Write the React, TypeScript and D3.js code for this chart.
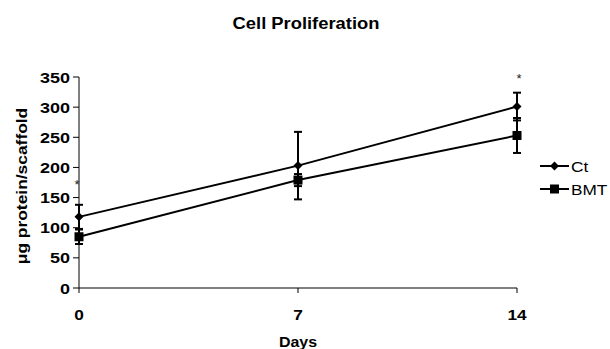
import React from "react";
import * as d3 from "d3";

const days = [0, 7, 14];
const ctValues = [118, 203, 301];
const ctErrors = [20, 56, 23];
const bmtValues = [85, 179, 253];
const bmtErrors = [12, 10, 29];
const yTicks = [0, 50, 100, 150, 200, 250, 300, 350];
const xTicks = [0, 7, 14];
const asterisks = [{ day: 0, value: 178 }, { day: 14, value: 353 }];

const W = 610, H = 349;
const left = 79, right = 517, top = 77, bottom = 288;
const font = "Arial, 'Liberation Sans', sans-serif";

function Txt(props: {
  x: number; y: number; size: number; sx?: number; anchor?: string; bold?: boolean; rotate?: number; fill?: string; children: React.ReactNode;
}) {
  const { x, y, size, sx = 1, anchor = "start", bold = false, rotate = 0, fill = "#000", children } = props;
  return (
    <text
      transform={`translate(${x},${y}) rotate(${rotate}) scale(${sx},1)`}
      textAnchor={anchor}
      fontFamily={font}
      fontWeight={bold ? "bold" : "normal"}
      fontSize={size}
      fill={fill}
    >
      {children}
    </text>
  );
}

export default function App() {
  const x = d3.scaleLinear().domain([0, 14]).range([left, right]);
  const y = d3.scaleLinear().domain([0, 350]).range([bottom, top]);
  const line = d3.line<number>().x((_, i) => x(days[i])).y((d) => y(d));

  const errBars = (vals: number[], errs: number[], key: string) =>
    vals.map((v, i) => {
      const cx = x(days[i]);
      const y1 = y(v + errs[i]);
      const y2 = y(v - errs[i]);
      return (
        <g key={key + i} stroke="#000" strokeWidth={2}>
          <line x1={cx} x2={cx} y1={y1} y2={y2} />
          <line x1={cx - 4} x2={cx + 4} y1={y1} y2={y1} />
          <line x1={cx - 4} x2={cx + 4} y1={y2} y2={y2} />
        </g>
      );
    });

  const diamond = (cx: number, cy: number, k: string) => (
    <path key={k} d={`M${cx},${cy - 4.5}L${cx + 4.5},${cy}L${cx},${cy + 4.5}L${cx - 4.5},${cy}Z`} fill="#000" />
  );
  const square = (cx: number, cy: number, k: string) => (
    <rect key={k} x={cx - 4.5} y={cy - 4.5} width={9} height={9} fill="#000" />
  );

  return (
    <svg width={W} height={H} style={{ position: "absolute", left: 0, top: 0, background: "#fff" }}>
      <Txt x={306} y={29} size={17} sx={1.08} anchor="middle" bold>
        Cell Proliferation
      </Txt>
      {/* axes */}
      <line x1={left} x2={left} y1={top} y2={bottom} stroke="#000" strokeWidth={1} />
      <line x1={left} x2={right} y1={bottom} y2={bottom} stroke="#000" strokeWidth={1} />
      {yTicks.map((t) => (
        <g key={"y" + t}>
          <line x1={left - 6} x2={left} y1={y(t)} y2={y(t)} stroke="#000" />
          <Txt x={70} y={y(t) + 5.5} size={15} sx={1.2} anchor="end" bold>
            {t}
          </Txt>
        </g>
      ))}
      {xTicks.map((t) => (
        <g key={"x" + t}>
          <line x1={x(t)} x2={x(t)} y1={bottom} y2={bottom + 5} stroke="#000" />
          <Txt x={x(t)} y={320} size={15} sx={1.15} anchor="middle" bold>
            {t}
          </Txt>
        </g>
      ))}
      <Txt x={x(7)} y={347} size={14.5} sx={1.1} anchor="middle" bold>
        Days
      </Txt>
      <Txt x={27} y={186} size={14.5} sx={1.2} rotate={-90} anchor="middle" bold>
        μg protein/scaffold
      </Txt>
      {/* series */}
      <path d={line(ctValues) || ""} fill="none" stroke="#000" strokeWidth={2} />
      <path d={line(bmtValues) || ""} fill="none" stroke="#000" strokeWidth={2} />
      {errBars(ctValues, ctErrors, "ce")}
      {errBars(bmtValues, bmtErrors, "be")}
      {ctValues.map((v, i) => diamond(x(days[i]), y(v), "cd" + i))}
      {bmtValues.map((v, i) => square(x(days[i]), y(v), "bs" + i))}
      {asterisks.map((a, i) => (
        <Txt key={"a" + i} x={x(a.day) + (i === 0 ? -2 : 2)} y={y(a.value) + 8} size={13} anchor="middle" fill="#222">
          *
        </Txt>
      ))}
      {/* legend */}
      <g>
        <line x1={540} x2={569} y1={166} y2={166} stroke="#000" strokeWidth={2} />
        {diamond(554.5, 166, "ld")}
        <Txt x={571} y={171.5} size={15} sx={1.15}>Ct</Txt>
        <line x1={540} x2={569} y1={189} y2={189} stroke="#000" strokeWidth={2} />
        {square(554.5, 189, "ls")}
        <Txt x={571} y={194.5} size={15} sx={1.15}>BMT</Txt>
      </g>
    </svg>
  );
}
